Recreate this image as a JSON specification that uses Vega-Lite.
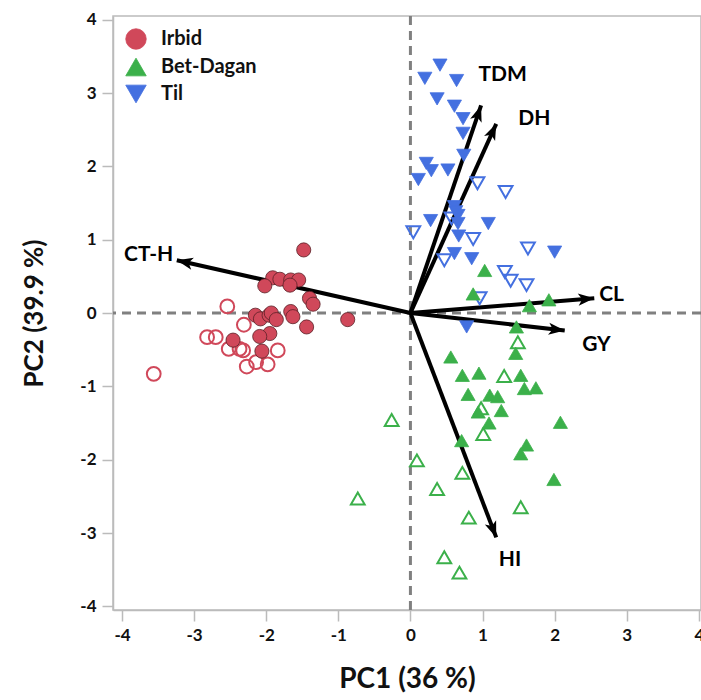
{
  "$schema": "https://vega.github.io/schema/vega-lite/v6.json",
  "width": 588,
  "height": 594,
  "autosize": "none",
  "padding": {"left": 113, "top": 16, "right": 0, "bottom": 90},
  "background": "white",
  "datasets": {
    "pts": [
      {"site": "Irbid", "type": "filled", "x": -1.48, "y": 0.86},
      {"site": "Irbid", "type": "filled", "x": -1.91, "y": 0.48},
      {"site": "Irbid", "type": "filled", "x": -1.81, "y": 0.46},
      {"site": "Irbid", "type": "filled", "x": -2.02, "y": 0.37},
      {"site": "Irbid", "type": "filled", "x": -1.66, "y": 0.45},
      {"site": "Irbid", "type": "filled", "x": -1.55, "y": 0.45},
      {"site": "Irbid", "type": "filled", "x": -1.67, "y": 0.38},
      {"site": "Irbid", "type": "filled", "x": -1.40, "y": 0.20},
      {"site": "Irbid", "type": "filled", "x": -1.35, "y": 0.12},
      {"site": "Irbid", "type": "filled", "x": -0.87, "y": -0.09},
      {"site": "Irbid", "type": "filled", "x": -2.15, "y": -0.03},
      {"site": "Irbid", "type": "filled", "x": -2.08, "y": -0.08},
      {"site": "Irbid", "type": "filled", "x": -1.96, "y": -0.03},
      {"site": "Irbid", "type": "filled", "x": -1.93, "y": 0.0},
      {"site": "Irbid", "type": "filled", "x": -1.86, "y": -0.09},
      {"site": "Irbid", "type": "filled", "x": -1.66, "y": 0.02},
      {"site": "Irbid", "type": "filled", "x": -1.63, "y": -0.05},
      {"site": "Irbid", "type": "filled", "x": -1.44, "y": -0.19},
      {"site": "Irbid", "type": "filled", "x": -1.95, "y": -0.28},
      {"site": "Irbid", "type": "filled", "x": -2.09, "y": -0.32},
      {"site": "Irbid", "type": "filled", "x": -2.46, "y": -0.37},
      {"site": "Irbid", "type": "filled", "x": -2.06, "y": -0.52},
      {"site": "Irbid", "type": "open", "x": -2.54, "y": 0.09},
      {"site": "Irbid", "type": "open", "x": -2.31, "y": -0.16},
      {"site": "Irbid", "type": "open", "x": -2.82, "y": -0.33},
      {"site": "Irbid", "type": "open", "x": -2.70, "y": -0.33},
      {"site": "Irbid", "type": "open", "x": -2.52, "y": -0.49},
      {"site": "Irbid", "type": "open", "x": -2.37, "y": -0.49},
      {"site": "Irbid", "type": "open", "x": -2.32, "y": -0.51},
      {"site": "Irbid", "type": "open", "x": -1.84, "y": -0.51},
      {"site": "Irbid", "type": "open", "x": -2.27, "y": -0.73},
      {"site": "Irbid", "type": "open", "x": -2.14, "y": -0.67},
      {"site": "Irbid", "type": "open", "x": -1.98, "y": -0.70},
      {"site": "Irbid", "type": "open", "x": -3.56, "y": -0.83},
      {"site": "Til", "type": "filled", "x": 0.41, "y": 3.38},
      {"site": "Til", "type": "filled", "x": 0.20, "y": 3.20},
      {"site": "Til", "type": "filled", "x": 0.64, "y": 3.17},
      {"site": "Til", "type": "filled", "x": 0.37, "y": 2.92},
      {"site": "Til", "type": "filled", "x": 0.61, "y": 2.82},
      {"site": "Til", "type": "filled", "x": 0.73, "y": 2.65},
      {"site": "Til", "type": "filled", "x": 0.73, "y": 2.45},
      {"site": "Til", "type": "filled", "x": 0.74, "y": 2.15},
      {"site": "Til", "type": "filled", "x": 0.22, "y": 2.04},
      {"site": "Til", "type": "filled", "x": 0.29, "y": 1.94},
      {"site": "Til", "type": "filled", "x": 0.52, "y": 1.95},
      {"site": "Til", "type": "filled", "x": 0.11, "y": 1.82},
      {"site": "Til", "type": "filled", "x": 0.61, "y": 1.45},
      {"site": "Til", "type": "filled", "x": 0.63, "y": 1.38},
      {"site": "Til", "type": "filled", "x": 0.28, "y": 1.26},
      {"site": "Til", "type": "filled", "x": 0.66, "y": 1.33},
      {"site": "Til", "type": "filled", "x": 0.66, "y": 1.22},
      {"site": "Til", "type": "filled", "x": 1.08, "y": 1.22},
      {"site": "Til", "type": "filled", "x": 0.67, "y": 1.05},
      {"site": "Til", "type": "filled", "x": 0.61, "y": 0.81},
      {"site": "Til", "type": "filled", "x": 0.85, "y": 0.74},
      {"site": "Til", "type": "filled", "x": 2.00, "y": 0.83},
      {"site": "Til", "type": "filled", "x": 0.78, "y": -0.19},
      {"site": "Til", "type": "open", "x": 0.93, "y": 1.77},
      {"site": "Til", "type": "open", "x": 1.32, "y": 1.65},
      {"site": "Til", "type": "open", "x": 0.04, "y": 1.10},
      {"site": "Til", "type": "open", "x": 0.87, "y": 1.01},
      {"site": "Til", "type": "open", "x": 0.47, "y": 0.72},
      {"site": "Til", "type": "open", "x": 1.63, "y": 0.88},
      {"site": "Til", "type": "open", "x": 1.31, "y": 0.56},
      {"site": "Til", "type": "open", "x": 1.39, "y": 0.44},
      {"site": "Til", "type": "open", "x": 1.61, "y": 0.38},
      {"site": "Til", "type": "open", "x": 0.96, "y": 0.20},
      {"site": "Til", "type": "open", "x": 0.57, "y": 1.29},
      {"site": "Bet-Dagan", "type": "filled", "x": 1.03, "y": 0.58},
      {"site": "Bet-Dagan", "type": "filled", "x": 0.87, "y": 0.26},
      {"site": "Bet-Dagan", "type": "filled", "x": 1.65, "y": 0.10},
      {"site": "Bet-Dagan", "type": "filled", "x": 1.92, "y": 0.18},
      {"site": "Bet-Dagan", "type": "filled", "x": 1.47, "y": -0.19},
      {"site": "Bet-Dagan", "type": "filled", "x": 1.46, "y": -0.55},
      {"site": "Bet-Dagan", "type": "filled", "x": 0.56, "y": -0.60},
      {"site": "Bet-Dagan", "type": "filled", "x": 0.72, "y": -0.85},
      {"site": "Bet-Dagan", "type": "filled", "x": 0.95, "y": -0.82},
      {"site": "Bet-Dagan", "type": "filled", "x": 1.53, "y": -0.85},
      {"site": "Bet-Dagan", "type": "filled", "x": 1.58, "y": -1.03},
      {"site": "Bet-Dagan", "type": "filled", "x": 1.74, "y": -1.02},
      {"site": "Bet-Dagan", "type": "filled", "x": 0.80, "y": -1.11},
      {"site": "Bet-Dagan", "type": "filled", "x": 1.10, "y": -1.12},
      {"site": "Bet-Dagan", "type": "filled", "x": 1.21, "y": -1.14},
      {"site": "Bet-Dagan", "type": "filled", "x": 0.94, "y": -1.35},
      {"site": "Bet-Dagan", "type": "filled", "x": 1.26, "y": -1.33},
      {"site": "Bet-Dagan", "type": "filled", "x": 1.09, "y": -1.50},
      {"site": "Bet-Dagan", "type": "filled", "x": 2.08, "y": -1.49},
      {"site": "Bet-Dagan", "type": "filled", "x": 0.71, "y": -1.74},
      {"site": "Bet-Dagan", "type": "filled", "x": 1.61, "y": -1.80},
      {"site": "Bet-Dagan", "type": "filled", "x": 1.53, "y": -1.92},
      {"site": "Bet-Dagan", "type": "filled", "x": 1.99, "y": -2.27},
      {"site": "Bet-Dagan", "type": "open", "x": 1.49, "y": -0.40},
      {"site": "Bet-Dagan", "type": "open", "x": 1.30, "y": -0.86},
      {"site": "Bet-Dagan", "type": "open", "x": 0.98, "y": -1.30},
      {"site": "Bet-Dagan", "type": "open", "x": 1.01, "y": -1.65},
      {"site": "Bet-Dagan", "type": "open", "x": -0.26, "y": -1.46},
      {"site": "Bet-Dagan", "type": "open", "x": 0.09, "y": -2.01},
      {"site": "Bet-Dagan", "type": "open", "x": 0.72, "y": -2.18},
      {"site": "Bet-Dagan", "type": "open", "x": 0.37, "y": -2.40},
      {"site": "Bet-Dagan", "type": "open", "x": -0.73, "y": -2.53},
      {"site": "Bet-Dagan", "type": "open", "x": 1.53, "y": -2.65},
      {"site": "Bet-Dagan", "type": "open", "x": 0.81, "y": -2.79},
      {"site": "Bet-Dagan", "type": "open", "x": 0.47, "y": -3.33},
      {"site": "Bet-Dagan", "type": "open", "x": 0.68, "y": -3.54}
    ],
    "vecs": [
      {"trait": "TDM", "x0": 0, "y0": 0, "x": 0.98, "y": 2.83, "lx": 1.28, "ly": 3.24},
      {"trait": "DH", "x0": 0, "y0": 0, "x": 1.19, "y": 2.58, "lx": 1.72, "ly": 2.65},
      {"trait": "CL", "x0": 0, "y0": 0, "x": 2.55, "y": 0.20, "lx": 2.79, "ly": 0.24},
      {"trait": "GY", "x0": 0, "y0": 0, "x": 2.14, "y": -0.24, "lx": 2.58, "ly": -0.44},
      {"trait": "HI", "x0": 0, "y0": 0, "x": 1.19, "y": -3.06, "lx": 1.38, "ly": -3.37},
      {"trait": "CT-H", "x0": 0, "y0": 0, "x": -3.24, "y": 0.72, "lx": -3.63, "ly": 0.79}
    ]
  },
  "layer": [
    {
      "data": {"values": [{"v": 0}]},
      "mark": {"type": "rule", "color": "#808080", "strokeWidth": 3, "strokeDash": [9, 6]},
      "encoding": {"y": {"field": "v", "type": "quantitative"}}
    },
    {
      "data": {"values": [{"v": 0}]},
      "mark": {"type": "rule", "color": "#808080", "strokeWidth": 3, "strokeDash": [9, 6]},
      "encoding": {"x": {"field": "v", "type": "quantitative"}}
    },
    {
      "data": {"name": "vecs"},
      "mark": {"type": "rule", "color": "black", "strokeWidth": 4},
      "encoding": {
        "x": {"field": "x0", "type": "quantitative"},
        "y": {"field": "y0", "type": "quantitative"},
        "x2": {"field": "x"},
        "y2": {"field": "y"}
      }
    },
    {
      "data": {"name": "vecs"},
      "transform": [{"calculate": "atan2(datum.x * 72.1, datum.y * 73.3) * 180 / PI", "as": "ang"}],
      "mark": {"type": "point", "filled": true, "color": "black", "opacity": 1, "size": 260, "shape": "M0,0L0.75,2L0,1.5L-0.75,2Z"},
      "encoding": {
        "x": {"field": "x", "type": "quantitative"},
        "y": {"field": "y", "type": "quantitative"},
        "angle": {"field": "ang", "type": "quantitative", "scale": null}
      }
    },
    {
      "data": {"name": "vecs"},
      "mark": {"type": "text", "font": "Lato", "fontWeight": "bold", "fontSize": 21, "color": "black", "align": "center", "baseline": "middle"},
      "encoding": {
        "x": {"field": "lx", "type": "quantitative"},
        "y": {"field": "ly", "type": "quantitative"},
        "text": {"field": "trait", "type": "nominal"}
      }
    },
    {
      "data": {"name": "pts"},
      "transform": [{"filter": "datum.type === 'open'"}],
      "mark": {"type": "point", "filled": false, "strokeWidth": 2, "size": 190, "opacity": 1},
      "encoding": {
        "x": {"field": "x", "type": "quantitative"},
        "y": {"field": "y", "type": "quantitative"},
        "color": {"field": "site", "type": "nominal"},
        "shape": {"field": "site", "type": "nominal"}
      }
    },
    {
      "data": {"name": "pts"},
      "transform": [{"filter": "datum.type === 'filled'"}],
      "mark": {"type": "point", "filled": true, "size": 200, "opacity": 1, "strokeWidth": 0.8},
      "encoding": {
        "x": {"field": "x", "type": "quantitative", "title": "PC1 (36 %)",
              "scale": {"domain": [-4.125, 4.03], "nice": false, "zero": false},
              "axis": {"values": [-4, -3, -2, -1, 0, 1, 2, 3, 4], "titlePadding": 22, "titleFontSize": 28,
                       "labelExpr": "datum.value < 0 ? '-' + abs(datum.value) : '' + datum.value"}},
        "y": {"field": "y", "type": "quantitative", "title": "PC2 (39.9 %)",
              "scale": {"domain": [-4.05, 4.05], "nice": false, "zero": false},
              "axis": {"values": [-4, -3, -2, -1, 0, 1, 2, 3, 4], "titlePadding": 32,
                       "labelExpr": "datum.value < 0 ? '-' + abs(datum.value) : '' + datum.value"}},
        "color": {"field": "site", "type": "nominal",
                  "scale": {"domain": ["Irbid", "Bet-Dagan", "Til"], "range": ["#D0485A", "#3BB04A", "#4470E0"]},
                  "legend": {"title": null, "orient": "none", "legendX": 12, "legendY": 12}},
        "shape": {"field": "site", "type": "nominal",
                  "scale": {"domain": ["Irbid", "Bet-Dagan", "Til"], "range": ["circle", "triangle-up", "triangle-down"]}},
        "stroke": {"field": "site", "type": "nominal",
                   "scale": {"domain": ["Irbid", "Bet-Dagan", "Til"], "range": ["#5A1F26", "#3BB04A", "#4470E0"]},
                   "legend": null}
      }
    }
  ],
  "config": {
    "view": {"stroke": "#BBBBBB", "strokeWidth": 1.5},
    "font": "Lato",
    "axis": {
      "grid": false,
      "domainColor": "#BBBBBB",
      "domainWidth": 1.5,
      "tickColor": "#BBBBBB",
      "tickWidth": 1.5,
      "tickSize": 11,
      "labelFont": "Lato",
      "labelFontWeight": "bold",
      "labelFontSize": 17,
      "labelColor": "#111111",
      "labelPadding": 6,
      "titleFont": "Lato",
      "titleFontWeight": "bold",
      "titleFontSize": 26,
      "titleColor": "#111111"
    },
    "legend": {
      "symbolSize": 420,
      "labelFont": "Lato",
      "labelFontWeight": "bold",
      "labelFontSize": 20,
      "labelColor": "#111111",
      "labelOffset": 14,
      "rowPadding": 5,
      "padding": 0,
      "symbolStrokeWidth": 0.8
    }
  }
}
